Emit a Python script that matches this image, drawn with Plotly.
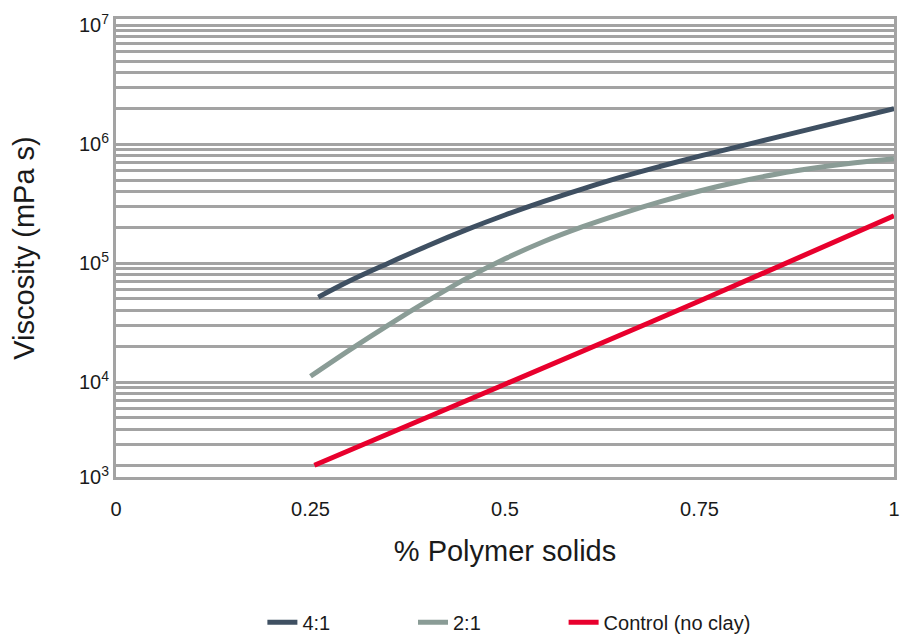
import plotly.graph_objects as go

# ---- data ----
x_41 = [0.26, 0.30, 0.35, 0.40, 0.45, 0.50, 0.55, 0.60, 0.65, 0.70, 0.75, 0.80, 0.85, 0.90, 0.95, 1.00]
y_41 = [51800, 70800, 100000, 139600, 190500, 254000, 331000, 422000, 531000, 653000, 794000,
        955000, 1148000, 1380000, 1660000, 1995000]

x_21 = [0.25, 0.30, 0.35, 0.40, 0.45, 0.50, 0.55, 0.60, 0.65, 0.70, 0.75, 0.80, 0.85, 0.90, 0.95, 1.00]
y_21 = [11200, 18600, 30200, 47900, 74100, 108900, 152100, 202800, 261200, 328900, 404600,
        484200, 562300, 633900, 698200, 755100]

x_ctrl = [0.255, 0.50, 0.75, 1.00]
y_ctrl = [2000, 9600, 48000, 250000]

series_names = ["4:1", "2:1", "Control (no clay)"]
series_colors = ["#3f5062", "#8a9c96", "#e8002d"]

x_tickvals = [0, 0.25, 0.5, 0.75, 1]
x_ticktext = ["0", "0.25", "0.5", "0.75", "1"]

y_range_log = [3.202, 7.053]
y_tickvals = [10 ** 3.202, 1e4, 1e5, 1e6, 1e7]
y_ticktext = ["10<sup>3</sup>", "10<sup>4</sup>", "10<sup>5</sup>", "10<sup>6</sup>", "10<sup>7</sup>"]
minor_vals = [k * 10 ** d for d in range(3, 7) for k in range(2, 10)]

FONT = "Liberation Sans, Arial, Helvetica, sans-serif"
GRID = "#a3a3a3"
PAD = "\u00a0" * 14

fig = go.Figure()
for i, (xs, ys, name, col) in enumerate(zip([x_41, x_21, x_ctrl], [y_41, y_21, y_ctrl],
                                            series_names, series_colors)):
    label = name + (PAD if i < 2 else "")
    fig.add_trace(go.Scatter(x=xs, y=ys, mode="lines", name=label,
                             line=dict(color=col, width=5, shape="spline", smoothing=1.0)))

fig.update_layout(
    width=892, height=627,
    margin=dict(l=108, r=6, t=11, b=158, autoexpand=False),
    paper_bgcolor="white", plot_bgcolor="white",
    font=dict(family=FONT, color="#1a1a1a", size=20),
    showlegend=True,
    legend=dict(orientation="h", x=0.505, xanchor="center", y=-0.317, yanchor="middle",
                font=dict(size=20, family=FONT)),
)
fig.update_xaxes(range=[0, 1], tickvals=x_tickvals, ticktext=x_ticktext, automargin=False,
                 showgrid=False, zeroline=False, ticks="", ticklabelstandoff=12,
                 tickfont=dict(size=20),
                 showline=True, mirror=True, linecolor=GRID, linewidth=3,
                 title=dict(text="% Polymer solids", font=dict(size=29), standoff=22))
fig.update_yaxes(type="log", range=y_range_log, tickvals=y_tickvals, ticktext=y_ticktext,
                 automargin=False,
                 showgrid=True, gridcolor=GRID, gridwidth=2.5, zeroline=False, ticks="",
                 tickfont=dict(size=20),
                 minor=dict(tickvals=minor_vals, showgrid=True, gridcolor=GRID, gridwidth=2.5, ticks=""),
                 showline=True, mirror=True, linecolor=GRID, linewidth=3,
                 title=dict(text="Viscosity (mPa s)", font=dict(size=29), standoff=36))

fig.write_html("out.html")
